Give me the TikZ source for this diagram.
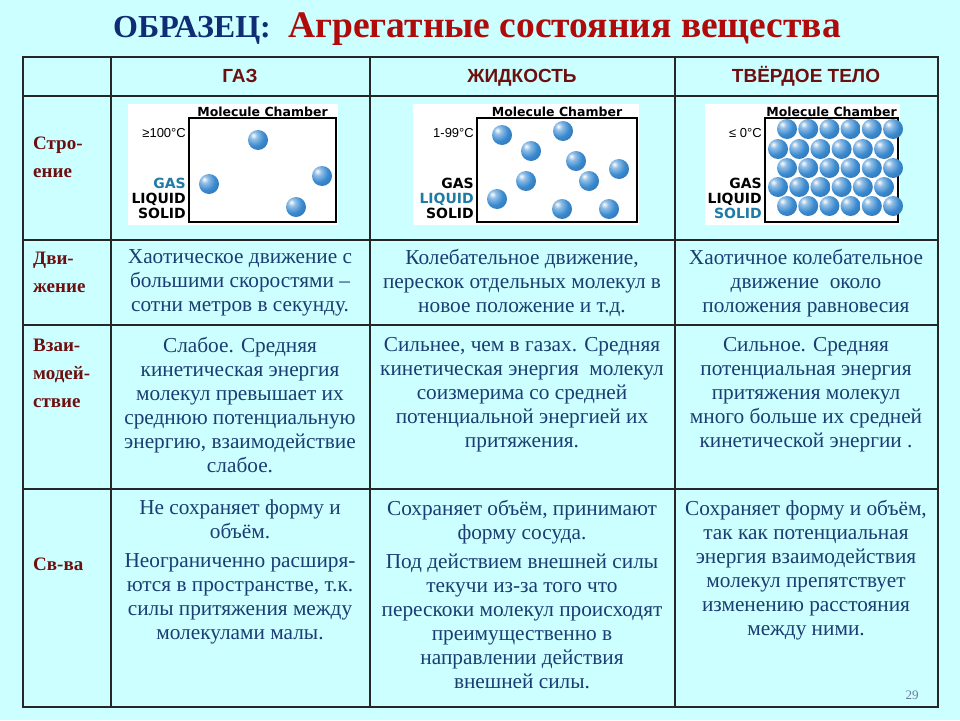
\documentclass[tikz,border=0pt]{standalone}
\usepackage{fontspec}
\setmainfont{Liberation Serif}
\newfontfamily\headfont{Liberation Sans}
\newfontfamily\chamberfont{DejaVu Sans}
\usetikzlibrary{positioning}
\definecolor{bg}{HTML}{CCFFFF}
\definecolor{titleblue}{HTML}{0F2C74}
\definecolor{titlered}{HTML}{B00A0A}
\definecolor{maroon}{HTML}{6E0F0F}
\definecolor{bodyblue}{HTML}{1C3C72}
\definecolor{molblue}{HTML}{3A8AD0}
\definecolor{labelblue}{HTML}{1E7BA6}
\definecolor{pagegrey}{HTML}{6A7A9A}
\pgfdeclareradialshading{molecule}{\pgfpoint{-12bp}{12bp}}{color(0bp)=(white); color(9bp)=(molblue!55!white); color(24bp)=(molblue); color(42bp)=(molblue!80!black); color(60bp)=(molblue!55!black); color(100bp)=(molblue!55!black)}
\tikzstyle{grid}=[draw=black!85,line width=1.2pt]
\tikzstyle{titletext}=[inner sep=0pt,anchor=base west]
\tikzstyle{colhead}=[font=\headfont\fontsize{19}{21}\selectfont\bfseries,text=maroon,anchor=base]
\tikzstyle{rowlabel}=[font=\fontsize{19}{28}\selectfont\bfseries,text=maroon,align=left,anchor=north west,inner sep=0pt]
\tikzstyle{cell}=[font=\fontsize{21.3}{24}\selectfont,text=bodyblue,align=center,anchor=north,inner sep=0pt]
\tikzstyle{chambertitle}=[font=\chamberfont\fontsize{12.5}{13}\selectfont\bfseries,inner sep=0pt,anchor=base]
\tikzstyle{statelabel}=[font=\chamberfont\fontsize{14}{15}\selectfont\bfseries,anchor=base east,inner sep=0pt]
\tikzstyle{templabel}=[font=\headfont\fontsize{13}{14}\selectfont,anchor=base east,inner sep=0pt]
\tikzstyle{molecule}=[shading=molecule]

\begin{document}
\begin{tikzpicture}[x=1pt,y=-1pt,node distance=17pt]
    \fill[bg] (0,0) rectangle (960,720);
    \useasboundingbox (0,0) rectangle (960,720);

    % title
    \node[titletext,font=\fontsize{32}{36}\selectfont\bfseries,text=titleblue] (sample) at (113,37) {ОБРАЗЕЦ:};
    \node[font=\fontsize{37.5}{40}\selectfont\bfseries,text=titlered,inner sep=0pt,right=of sample.base east,anchor=base west] (title) {Агрегатные состояния вещества};

    % table
    \draw[grid] (23,57) rectangle (938,707);
    \foreach \x in {111,370,675}
        \draw[grid] (\x,57) -- (\x,707);
    \foreach \y in {96,240,325,489}
        \draw[grid] (23,\y) -- (938,\y);

    \node[colhead] (gas) at (240,82) {ГАЗ};
    \node[colhead] (liquid) at (522,82) {ЖИДКОСТЬ};
    \node[colhead] (solid) at (806,82) {ТВЁРДОЕ ТЕЛО};

    \node[rowlabel] (structure) at (33,137) {Стро-\\ение};
    \node[rowlabel] (motion) at (33,252) {Дви-\\жение};
    \node[rowlabel] (interaction) at (33,339) {Взаи-\\модей-\\ствие};
    \node[rowlabel] (properties) at (33,558) {Св-ва};

    % molecule chambers
    \foreach \name/\bl/\fl/\fr/\temp/\cg/\cl/\cs in {
        gaschamber/128/189/336/{≥100°C}/labelblue/black/black,
        liquidchamber/413/477/637/{1-99°C}/black/labelblue/black,
        solidchamber/705/765/898/{≤ 0°C}/black/black/labelblue} {
        \fill[white] (\bl,104) rectangle (\fr+2,225);
        \draw[line width=1.6pt] (\fl,118) rectangle (\fr,222);
        \node[chambertitle] (\name-title) at ({(\fl+\fr)/2},116) {Molecule Chamber};
        \node[templabel] (\name-temp) at (\fl-3,137) {\temp};
        \node[statelabel,text=\cg] (\name-gas) at (\fl-3,188) {GAS};
        \node[statelabel,text=\cl] (\name-liquid) at (\fl-3,203) {LIQUID};
        \node[statelabel,text=\cs] (\name-solid) at (\fl-3,218) {SOLID};
    }
    \foreach \x/\y in {258/140,209/184,322/176,296/207}
        \shade[molecule] (\x,\y) circle (10);
    \foreach \x/\y in {502/135,563/131,531/151,576/161,619/169,526/181,589/181,497/199,562/209,609/209}
        \shade[molecule] (\x,\y) circle (10);
    \foreach \y/\s in {129/787,149/778,168/787,187/778,206/787}
        \foreach \i in {0,...,5}
            \shade[molecule] (\s+21.2*\i,\y) circle (10);

    % motion
    \node[cell] (gasmotion) at (240,249) {Хаотическое движение с\\ большими скоростями --\\ сотни метров в секунду.};
    \node[cell] (liquidmotion) at (522,249) {Колебательное движение,\\ перескок отдельных молекул в\\ новое положение и т.д.};
    \node[cell] (solidmotion) at (806,249) {Хаотичное колебательное\\ движение\ \ около\\ положения равновесия};

    % interaction
    \node[cell] (gasinter) at (240,337) {Слабое. Средняя\\ кинетическая энергия\\ молекул превышает их\\ среднюю потенциальную\\ энергию, взаимодействие\\ слабое.};
    \node[cell] (liquidinter) at (522,337) {Сильнее, чем в газах. Средняя\\ кинетическая энергия\ \ молекул\\ соизмерима со средней\\ потенциальной энергией их\\ притяжения.};
    \node[cell] (solidinter) at (806,337) {Сильное. Средняя\\ потенциальная энергия\\ притяжения молекул\\ много больше их средней\\ кинетической энергии .};

    % properties
    \node[cell] (gasprop) at (240,500) {Не сохраняет форму и\\ объём.\\[5pt] Неограниченно расширя-\\ ются в пространстве, т.к.\\ силы притяжения между\\ молекулами малы.};
    \node[cell] (liquidprop) at (522,500) {Сохраняет объём, принимают\\ форму сосуда.\\[5pt] Под действием внешней силы\\ текучи из-за того что\\ перескоки молекул происходят\\ преимущественно в\\ направлении действия\\ внешней силы.};
    \node[cell] (solidprop) at (806,500) {Сохраняет форму и объём,\\ так как потенциальная\\ энергия взаимодействия\\ молекул препятствует\\ изменению расстояния\\ между ними.};

    \node[font=\fontsize{13}{14}\selectfont,text=pagegrey] (page) at (912,695) {29};
\end{tikzpicture}
\end{document}
